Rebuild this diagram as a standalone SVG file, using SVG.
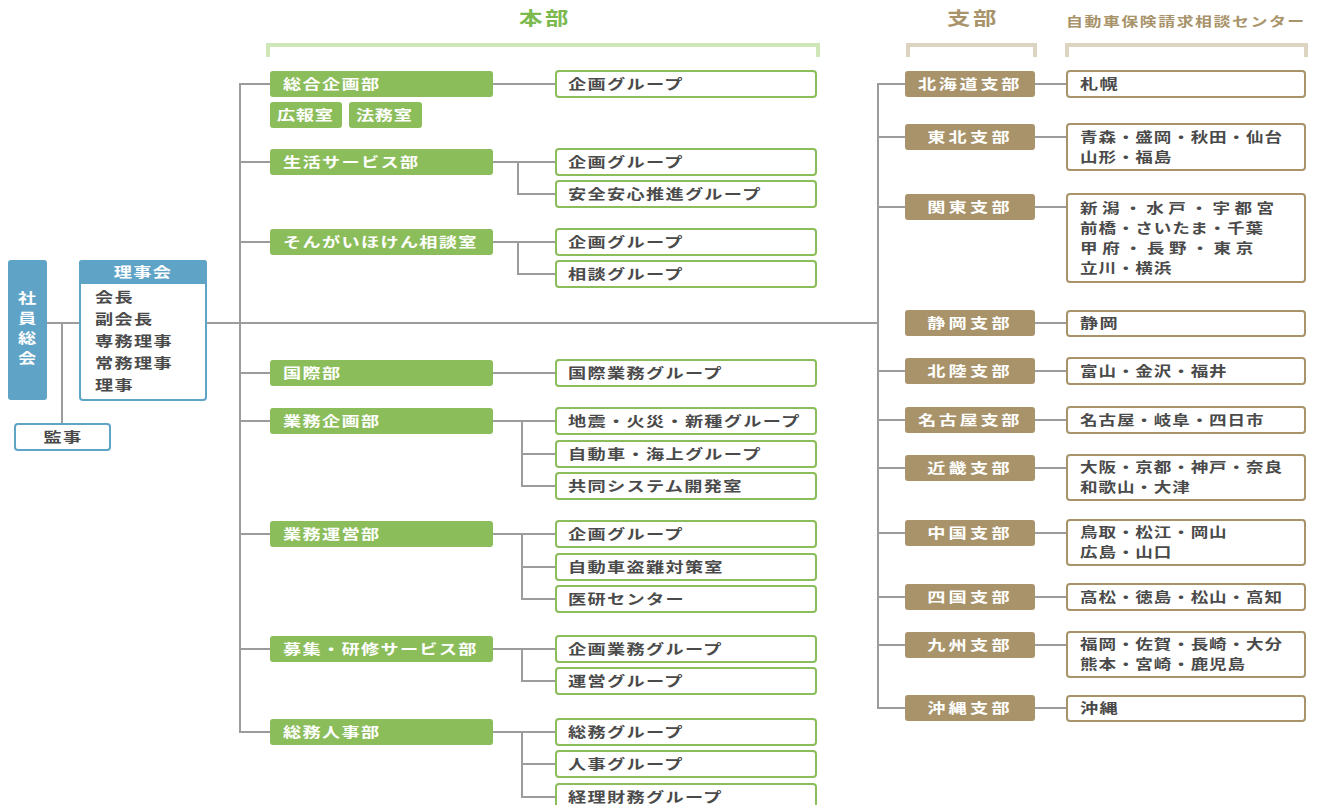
<svg xmlns="http://www.w3.org/2000/svg" width="1320" height="805" viewBox="0 0 1320 805">
<style>
text{font-family:"Noto Sans CJK JP","Noto Sans CJK SC",sans-serif;font-size:14px;letter-spacing:1px}
.conn{stroke:#9c9c9c;stroke-width:2;fill:none}
.dept rect{fill:#8bbd5b}
.dept text{fill:#fff;font-weight:bold}
.grp rect{fill:#fff;stroke:#8bbd5b;stroke-width:2}
.grp text{fill:#4a4a4a;font-weight:bold}
.br rect{fill:#a8936a}
.br text{fill:#fff;font-weight:bold;text-anchor:middle}
.ctr rect{fill:#fff;stroke:#a8936a;stroke-width:2}
.ctr text{fill:#4a4a4a;font-weight:bold}
.blue{fill:#5fa4c7}
.wt{fill:#fff;font-weight:bold}
.dk{fill:#4a4a4a;font-weight:bold}
.tl{font-size:13.5px;letter-spacing:0.7px}
</style>
<rect width="1320" height="805" fill="#fff"/>
<g id="headers">
<text transform="translate(545 25) scale(1.3 1)" style="font-size:18px;letter-spacing:2px;font-weight:bold" fill="#7cb94d" text-anchor="middle">本部</text>
<path d="M268,57 V45 H818 V57" stroke="#cfe6b8" stroke-width="4" fill="none"/>
<text transform="translate(973 25) scale(1.3 1)" style="font-size:18px;letter-spacing:2px;font-weight:bold" fill="#a8936a" text-anchor="middle">支部</text>
<path d="M908,57 V45 H1035 V57" stroke="#ddd3c1" stroke-width="4" fill="none"/>
<text transform="translate(1066 26) scale(1.3 1)" style="font-size:13px;letter-spacing:1.2px;font-weight:bold" fill="#a8936a">自動車保険請求相談センター</text>
<path d="M1067,57 V45 H1306 V57" stroke="#ddd3c1" stroke-width="4" fill="none"/>
</g>
<g id="connectors" class="conn">
<path d="M47,323 H79"/>
<path d="M62,323 V424"/>
<path d="M206,323 H878"/>
<path d="M270,84 H240 V732 H270"/>
<path d="M240,162 H270 M240,242 H270 M240,373 H270 M240,421 H270 M240,534 H270 M240,649 H270"/>
<path d="M493,84 H556"/>
<path d="M493,162 H556 M518,162 V194 H556"/>
<path d="M493,242 H556 M518,242 V274 H556"/>
<path d="M493,373 H556"/>
<path d="M493,421 H556 M522,421 V486 H556 M522,454 H556"/>
<path d="M493,534 H556 M522,534 V599 H556 M522,567 H556"/>
<path d="M493,649 H556 M522,649 V681 H556"/>
<path d="M493,732 H556 M522,732 V797 H556 M522,764 H556"/>
<path d="M905,84 H878 V708 H905"/>
<path d="M878,137 H905 M878,207 H905 M878,371 H905 M878,420 H905 M878,468 H905 M878,533 H905 M878,597 H905 M878,645 H905"/>
<path d="M1035,84 H1067 M1035,137 H1067 M1035,207 H1067 M1035,323 H1067 M1035,371 H1067 M1035,420 H1067 M1035,468 H1067 M1035,533 H1067 M1035,597 H1067 M1035,645 H1067 M1035,708 H1067"/>
</g>
<g id="shainsokai">
<rect x="8" y="260" width="39" height="140" rx="3" class="blue"/>
<text transform="translate(27 303) scale(1.3 1)" class="wt" text-anchor="middle" style="letter-spacing:0">社</text>
<text transform="translate(27 323) scale(1.3 1)" class="wt" text-anchor="middle" style="letter-spacing:0">員</text>
<text transform="translate(27 343) scale(1.3 1)" class="wt" text-anchor="middle" style="letter-spacing:0">総</text>
<text transform="translate(27 363) scale(1.3 1)" class="wt" text-anchor="middle" style="letter-spacing:0">会</text>
</g>
<g id="rijikai">
<rect x="80" y="261" width="126" height="139" rx="3" fill="#fff" stroke="#5fa4c7" stroke-width="2"/>
<rect x="79" y="260" width="128" height="24" rx="3" class="blue"/>
<text transform="translate(143 277) scale(1.3 1)" class="wt" text-anchor="middle">理事会</text>
<text transform="translate(95 302) scale(1.3 1)" class="dk">会長</text>
<text transform="translate(95 324) scale(1.3 1)" class="dk">副会長</text>
<text transform="translate(95 346) scale(1.3 1)" class="dk">専務理事</text>
<text transform="translate(95 368) scale(1.3 1)" class="dk">常務理事</text>
<text transform="translate(95 390) scale(1.3 1)" class="dk">理事</text>
</g>
<g id="kanji">
<rect x="15" y="424" width="95" height="26" rx="3" fill="#fff" stroke="#5fa4c7" stroke-width="2"/>
<text transform="translate(63 442) scale(1.3 1)" class="dk" text-anchor="middle">監事</text>
</g>
<g id="d-sogokikaku" class="dept"><rect x="270" y="71" width="223" height="26" rx="3"/><text transform="translate(283 89) scale(1.3 1)">総合企画部</text></g>
<g id="d-koho" class="dept"><rect x="270" y="102" width="72" height="26" rx="3"/><text transform="translate(277 120) scale(1.3 1)" style="letter-spacing:0.5px">広報室</text></g>
<g id="d-homu" class="dept"><rect x="349" y="102" width="73" height="26" rx="3"/><text transform="translate(356 120) scale(1.3 1)" style="letter-spacing:0.5px">法務室</text></g>
<g id="d-seikatsu" class="dept"><rect x="270" y="149" width="223" height="26" rx="3"/><text transform="translate(283 167) scale(1.3 1)">生活サービス部</text></g>
<g id="d-songai" class="dept"><rect x="270" y="229" width="223" height="26" rx="3"/><text transform="translate(283 247) scale(1.3 1)">そんがいほけん相談室</text></g>
<g id="d-kokusai" class="dept"><rect x="270" y="360" width="223" height="26" rx="3"/><text transform="translate(283 378) scale(1.3 1)">国際部</text></g>
<g id="d-gyomukikaku" class="dept"><rect x="270" y="408" width="223" height="26" rx="3"/><text transform="translate(283 426) scale(1.3 1)">業務企画部</text></g>
<g id="d-gyomuunei" class="dept"><rect x="270" y="521" width="223" height="26" rx="3"/><text transform="translate(283 539) scale(1.3 1)">業務運営部</text></g>
<g id="d-boshu" class="dept"><rect x="270" y="636" width="223" height="26" rx="3"/><text transform="translate(283 654) scale(1.3 1)">募集・研修サービス部</text></g>
<g id="d-somujinji" class="dept"><rect x="270" y="719" width="223" height="26" rx="3"/><text transform="translate(283 737) scale(1.3 1)">総務人事部</text></g>
<g id="g1" class="grp"><rect x="556" y="71" width="260" height="26" rx="3"/><text transform="translate(568 89) scale(1.3 1)">企画グループ</text></g>
<g id="g2" class="grp"><rect x="556" y="149" width="260" height="26" rx="3"/><text transform="translate(568 167) scale(1.3 1)">企画グループ</text></g>
<g id="g3" class="grp"><rect x="556" y="181" width="260" height="26" rx="3"/><text transform="translate(568 199) scale(1.3 1)">安全安心推進グループ</text></g>
<g id="g4" class="grp"><rect x="556" y="229" width="260" height="26" rx="3"/><text transform="translate(568 247) scale(1.3 1)">企画グループ</text></g>
<g id="g5" class="grp"><rect x="556" y="261" width="260" height="26" rx="3"/><text transform="translate(568 279) scale(1.3 1)">相談グループ</text></g>
<g id="g6" class="grp"><rect x="556" y="360" width="260" height="26" rx="3"/><text transform="translate(568 378) scale(1.3 1)">国際業務グループ</text></g>
<g id="g7" class="grp"><rect x="556" y="408" width="260" height="26" rx="3"/><text transform="translate(568 426) scale(1.3 1)">地震・火災・新種グループ</text></g>
<g id="g8" class="grp"><rect x="556" y="441" width="260" height="26" rx="3"/><text transform="translate(568 459) scale(1.3 1)">自動車・海上グループ</text></g>
<g id="g9" class="grp"><rect x="556" y="473" width="260" height="26" rx="3"/><text transform="translate(568 491) scale(1.3 1)">共同システム開発室</text></g>
<g id="g10" class="grp"><rect x="556" y="521" width="260" height="26" rx="3"/><text transform="translate(568 539) scale(1.3 1)">企画グループ</text></g>
<g id="g11" class="grp"><rect x="556" y="554" width="260" height="26" rx="3"/><text transform="translate(568 572) scale(1.3 1)">自動車盗難対策室</text></g>
<g id="g12" class="grp"><rect x="556" y="586" width="260" height="26" rx="3"/><text transform="translate(568 604) scale(1.3 1)">医研センター</text></g>
<g id="g13" class="grp"><rect x="556" y="636" width="260" height="26" rx="3"/><text transform="translate(568 654) scale(1.3 1)">企画業務グループ</text></g>
<g id="g14" class="grp"><rect x="556" y="668" width="260" height="26" rx="3"/><text transform="translate(568 686) scale(1.3 1)">運営グループ</text></g>
<g id="g15" class="grp"><rect x="556" y="719" width="260" height="26" rx="3"/><text transform="translate(568 737) scale(1.3 1)">総務グループ</text></g>
<g id="g16" class="grp"><rect x="556" y="751" width="260" height="26" rx="3"/><text transform="translate(568 769) scale(1.3 1)">人事グループ</text></g>
<g id="g17" class="grp"><rect x="556" y="784" width="260" height="26" rx="3"/><text transform="translate(568 802) scale(1.3 1)">経理財務グループ</text></g>
<g id="b-hokkaido" class="br"><rect x="905" y="71" width="130" height="26" rx="3"/><text transform="translate(970 89) scale(1.3 1)" style="letter-spacing:2px">北海道支部</text></g>
<g id="b-tohoku" class="br"><rect x="905" y="124" width="130" height="26" rx="3"/><text transform="translate(970 142) scale(1.3 1)" style="letter-spacing:2.5px">東北支部</text></g>
<g id="b-kanto" class="br"><rect x="905" y="194" width="130" height="26" rx="3"/><text transform="translate(970 212) scale(1.3 1)" style="letter-spacing:2.5px">関東支部</text></g>
<g id="b-shizuoka" class="br"><rect x="905" y="310" width="130" height="26" rx="3"/><text transform="translate(970 328) scale(1.3 1)" style="letter-spacing:2.5px">静岡支部</text></g>
<g id="b-hokuriku" class="br"><rect x="905" y="358" width="130" height="26" rx="3"/><text transform="translate(970 376) scale(1.3 1)" style="letter-spacing:2.5px">北陸支部</text></g>
<g id="b-nagoya" class="br"><rect x="905" y="407" width="130" height="26" rx="3"/><text transform="translate(970 425) scale(1.3 1)" style="letter-spacing:2px">名古屋支部</text></g>
<g id="b-kinki" class="br"><rect x="905" y="455" width="130" height="26" rx="3"/><text transform="translate(970 473) scale(1.3 1)" style="letter-spacing:2.5px">近畿支部</text></g>
<g id="b-chugoku" class="br"><rect x="905" y="520" width="130" height="26" rx="3"/><text transform="translate(970 538) scale(1.3 1)" style="letter-spacing:2.5px">中国支部</text></g>
<g id="b-shikoku" class="br"><rect x="905" y="584" width="130" height="26" rx="3"/><text transform="translate(970 602) scale(1.3 1)" style="letter-spacing:2.5px">四国支部</text></g>
<g id="b-kyushu" class="br"><rect x="905" y="632" width="130" height="26" rx="3"/><text transform="translate(970 650) scale(1.3 1)" style="letter-spacing:2.5px">九州支部</text></g>
<g id="b-okinawa" class="br"><rect x="905" y="695" width="130" height="26" rx="3"/><text transform="translate(970 713) scale(1.3 1)" style="letter-spacing:2.5px">沖縄支部</text></g>
<g id="c-sapporo" class="ctr"><rect x="1067" y="71" width="238" height="26" rx="3"/><text transform="translate(1080 89) scale(1.3 1)">札幌</text></g>
<g id="c-tohoku" class="ctr"><rect x="1067" y="124" width="238" height="46" rx="3"/><text transform="translate(1080 142) scale(1.3 1)" class="tl">青森・盛岡・秋田・仙台</text><text transform="translate(1080 162) scale(1.3 1)" class="tl">山形・福島</text></g>
<g id="c-kanto" class="ctr"><rect x="1067" y="194" width="238" height="88" rx="3"/>
<text transform="translate(1080 213) scale(1.3 1)" class="tl" textLength="150" lengthAdjust="spacing">新潟・水戸・宇都宮</text>
<text transform="translate(1080 233) scale(1.3 1)" class="tl">前橋・さいたま・千葉</text>
<text transform="translate(1080 253) scale(1.3 1)" class="tl" textLength="134" lengthAdjust="spacing">甲府・長野・東京</text>
<text transform="translate(1080 273) scale(1.3 1)" class="tl">立川・横浜</text></g>
<g id="c-shizuoka" class="ctr"><rect x="1067" y="311" width="238" height="25" rx="3"/><text transform="translate(1080 328) scale(1.3 1)">静岡</text></g>
<g id="c-hokuriku" class="ctr"><rect x="1067" y="358" width="238" height="26" rx="3"/><text transform="translate(1080 376) scale(1.3 1)" class="tl">富山・金沢・福井</text></g>
<g id="c-nagoya" class="ctr"><rect x="1067" y="407" width="238" height="26" rx="3"/><text transform="translate(1080 425) scale(1.3 1)" class="tl">名古屋・岐阜・四日市</text></g>
<g id="c-kinki" class="ctr"><rect x="1067" y="455" width="238" height="45" rx="3"/><text transform="translate(1080 472) scale(1.3 1)" class="tl">大阪・京都・神戸・奈良</text><text transform="translate(1080 492) scale(1.3 1)" class="tl">和歌山・大津</text></g>
<g id="c-chugoku" class="ctr"><rect x="1067" y="520" width="238" height="45" rx="3"/><text transform="translate(1080 537) scale(1.3 1)" class="tl">鳥取・松江・岡山</text><text transform="translate(1080 557) scale(1.3 1)" class="tl">広島・山口</text></g>
<g id="c-shikoku" class="ctr"><rect x="1067" y="584" width="238" height="26" rx="3"/><text transform="translate(1080 602) scale(1.3 1)" class="tl">高松・徳島・松山・高知</text></g>
<g id="c-kyushu" class="ctr"><rect x="1067" y="632" width="238" height="45" rx="3"/><text transform="translate(1080 649) scale(1.3 1)" class="tl">福岡・佐賀・長崎・大分</text><text transform="translate(1080 669) scale(1.3 1)" class="tl">熊本・宮崎・鹿児島</text></g>
<g id="c-okinawa" class="ctr"><rect x="1067" y="696" width="238" height="25" rx="3"/><text transform="translate(1080 713) scale(1.3 1)">沖縄</text></g>
</svg>
